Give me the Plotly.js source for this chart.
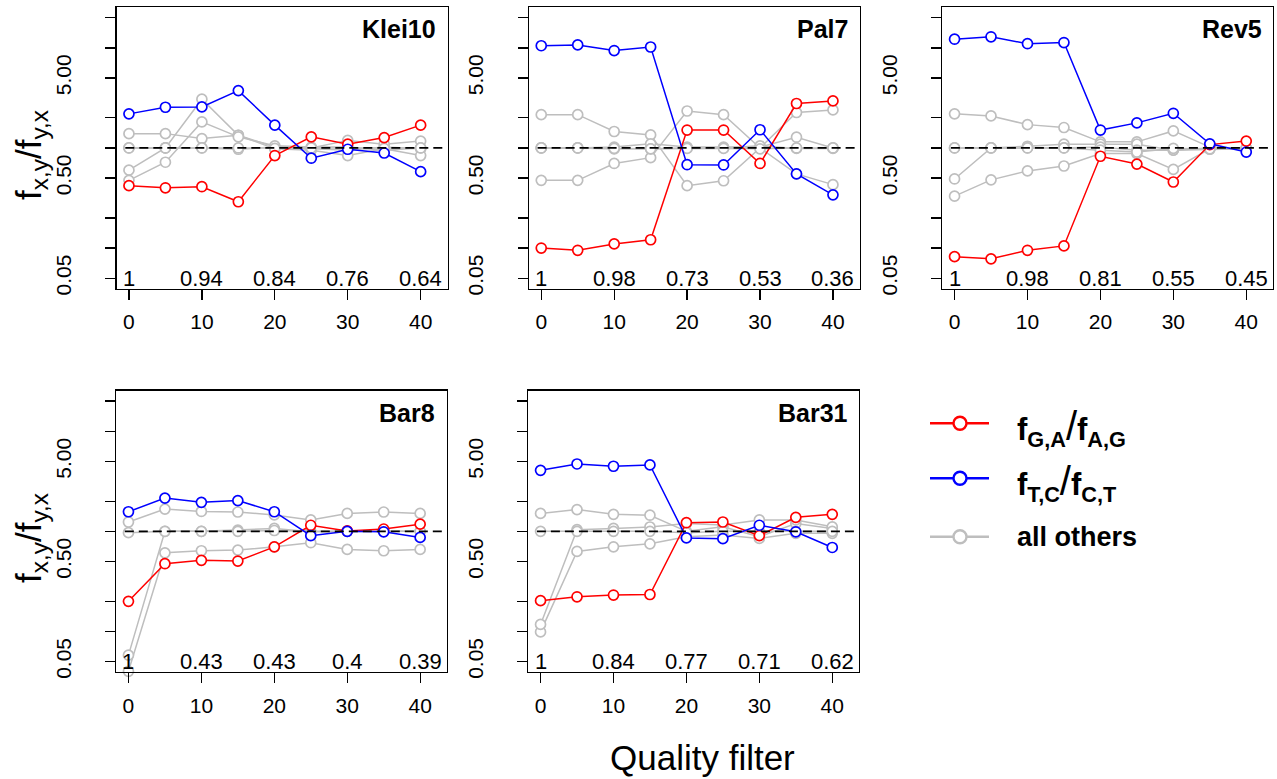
<!DOCTYPE html>
<html><head><meta charset="utf-8">
<script src="https://cdn.plot.ly/plotly-3.0.1.min.js"></script>
<style>html,body{margin:0;padding:0;background:#fff}#chart{width:1277px;height:779px}</style>
</head><body><div id="chart"></div>
<script>
// ---------------- data ----------------
const quality = [0, 5, 10, 15, 20, 25, 30, 35, 40];
const panelNames = ['Klei10', 'Pal7', 'Rev5', 'Bar8', 'Bar31'];
const fracTicks = [0, 10, 20, 30, 40];

// Klei10
const klei10_GA = [0.42, 0.40, 0.41, 0.29, 0.84, 1.29, 1.09, 1.27, 1.69];
const klei10_TC = [2.19, 2.55, 2.57, 3.74, 1.69, 0.79, 0.97, 0.89, 0.58];
const klei10_others = [
  [1.39, 1.39, 1.24, 1.34, 1.02, 0.98, 0.95, 1.02, 0.98],
  [1.00, 1.00, 1.00, 0.97, 1.02, 1.00, 1.19, 1.09, 1.17],
  [0.60, 1.00, 3.07, 1.34, 0.98, 0.95, 0.84, 0.98, 0.84],
  [0.475, 0.72, 1.82, 1.29, 1.05, 1.02, 1.02, 0.95, 1.00],
  [1.00, 1.00, 1.00, 1.00, 0.99, 1.00, 0.99, 0.99, 1.00]
];
const klei10_frac = ['1', '0.94', '0.84', '0.76', '0.64'];

// Pal7
const pal7_GA = [0.100, 0.095, 0.110, 0.121, 1.51, 1.51, 0.70, 2.78, 2.95];
const pal7_TC = [10.5, 10.7, 9.4, 10.2, 0.68, 0.676, 1.52, 0.55, 0.34];
const pal7_others = [
  [2.15, 2.15, 1.46, 1.35, 0.42, 0.47, 1.00, 0.55, 0.43],
  [0.475, 0.475, 0.70, 0.80, 2.34, 2.15, 1.00, 2.26, 2.40],
  [1.00, 1.00, 1.02, 1.10, 1.02, 1.02, 1.02, 1.28, 1.00],
  [1.00, 1.00, 0.98, 0.98, 1.00, 1.00, 1.05, 0.99, 0.99],
  [1.00, 1.00, 0.99, 0.98, 0.99, 0.99, 0.98, 1.00, 1.00]
];
const pal7_frac = ['1', '0.98', '0.73', '0.53', '0.36'];

// Rev5
const rev5_GA = [0.082, 0.078, 0.095, 0.105, 0.826, 0.69, 0.457, 1.08, 1.17];
const rev5_TC = [12.2, 12.9, 11.0, 11.3, 1.51, 1.78, 2.22, 1.10, 0.91];
const rev5_others = [
  [2.19, 2.09, 1.71, 1.60, 1.15, 1.15, 1.48, 1.02, 0.98],
  [0.33, 0.48, 0.59, 0.66, 0.88, 0.88, 0.61, 0.98, 0.97],
  [0.49, 1.00, 1.04, 1.09, 1.09, 1.09, 0.95, 1.00, 1.00],
  [1.00, 1.00, 1.00, 1.00, 1.02, 0.95, 0.95, 0.97, 0.98],
  [1.00, 1.00, 1.00, 1.00, 0.95, 0.91, 0.99, 0.98, 1.00]
];
const rev5_frac = ['1', '0.98', '0.81', '0.55', '0.45'];

// Bar8
const bar8_GA = [0.20, 0.475, 0.513, 0.505, 0.70, 1.15, 1.01, 1.055, 1.18];
const bar8_TC = [1.57, 2.15, 1.95, 2.03, 1.57, 0.905, 1.00, 0.99, 0.87];
const bar8_others = [
  [1.24, 1.67, 1.58, 1.56, 1.46, 1.30, 1.51, 1.56, 1.51],
  [0.040, 0.61, 0.64, 0.65, 0.70, 0.77, 0.66, 0.64, 0.66],
  [0.058, 1.00, 1.00, 1.03, 1.07, 0.99, 1.00, 1.00, 1.00],
  [0.97, 1.00, 1.00, 1.00, 1.02, 1.00, 1.00, 1.00, 1.00]
];
const bar8_frac = ['1', '0.43', '0.43', '0.4', '0.39'];

// Bar31
const bar31_GA = [0.203, 0.222, 0.231, 0.234, 1.22, 1.24, 0.905, 1.38, 1.48];
const bar31_TC = [4.07, 4.71, 4.47, 4.61, 0.86, 0.845, 1.15, 0.99, 0.69];
const bar31_others = [
  [1.51, 1.65, 1.48, 1.45, 1.00, 1.11, 0.885, 1.20, 1.07],
  [0.099, 0.63, 0.70, 0.75, 0.885, 0.92, 0.85, 0.955, 0.955],
  [0.1175, 1.04, 1.07, 1.105, 1.20, 1.16, 1.30, 1.30, 1.11],
  [1.00, 1.00, 1.00, 1.00, 0.97, 1.00, 1.00, 1.00, 1.00]
];
const bar31_frac = ['1', '0.84', '0.77', '0.71', '0.62'];

const yTickVals = [0.05, 0.1, 0.2, 0.5, 1, 2, 5, 10, 20];
const yTickText = ['0.05', '', '', '0.50', '', '', '5.00', '', ''];
const legendLabels = ['f<sub>G,A</sub><span style="font-size:40px;font-weight:normal">/</span>f<sub>A,G</sub>',
                      'f<sub>T,C</sub><span style="font-size:40px;font-weight:normal">/</span>f<sub>C,T</sub>',
                      'all others'];

// ---------------- layout helpers ----------------
const W = 1277, H = 779;
const FONT = 'Liberation Sans, Arial, Helvetica, sans-serif';
const RED = '#FF0000', BLUE = '#0000FF', GRAY = '#BEBEBE';
const panels = [
  {name: 'Klei10', GA: klei10_GA, TC: klei10_TC, others: klei10_others, frac: klei10_frac, left: 116.7, top: 7.3},
  {name: 'Pal7',   GA: pal7_GA,   TC: pal7_TC,   others: pal7_others,   frac: pal7_frac,   left: 529.0, top: 7.3},
  {name: 'Rev5',   GA: rev5_GA,   TC: rev5_TC,   others: rev5_others,   frac: rev5_frac,   left: 942.3, top: 7.3},
  {name: 'Bar8',   GA: bar8_GA,   TC: bar8_TC,   others: bar8_others,   frac: bar8_frac,   left: 116.2, top: 390.7},
  {name: 'Bar31',  GA: bar31_GA,  TC: bar31_TC,  others: bar31_others,  frac: bar31_frac,  left: 528.3, top: 390.7}
];
const PW = 330.8, PH = 281.3;

const traces = [];
const layout = {
  width: W, height: H,
  margin: {l: 0, r: 0, t: 0, b: 0},
  paper_bgcolor: '#fff', plot_bgcolor: '#fff',
  showlegend: false,
  font: {family: FONT, color: '#000'},
  annotations: [], shapes: []
};

function lineTrace(x, y, color, xa, ya) {
  return {
    type: 'scatter', mode: 'lines+markers', x: x, y: y, xaxis: xa, yaxis: ya,
    line: {color: color, width: 1.5},
    marker: {symbol: 'circle', size: 10, color: '#fff', line: {color: color, width: 1.7}},
    cliponaxis: false, hoverinfo: 'skip'
  };
}

panels.forEach((p, i) => {
  const n = i + 1;
  const xa = 'x' + (n === 1 ? '' : n), ya = 'y' + (n === 1 ? '' : n);
  const xk = 'xaxis' + (n === 1 ? '' : n), yk = 'yaxis' + (n === 1 ? '' : n);
  p.others.forEach(s => traces.push(lineTrace(quality, s, GRAY, xa, ya)));
  traces.push(lineTrace(quality, p.GA, RED, xa, ya));
  traces.push(lineTrace(quality, p.TC, BLUE, xa, ya));

  layout[xk] = {
    domain: [p.left / W, (p.left + PW) / W], anchor: ya,
    range: [-1.68, 43.68], tickvals: [0, 10, 20, 30, 40],
    ticks: 'outside', ticklen: 10, tickwidth: 1.3, tickcolor: '#000',
    showline: true, mirror: true, linecolor: '#000', linewidth: 1.3,
    showgrid: false, zeroline: false, fixedrange: true,
    tickfont: {size: 21, family: FONT, color: '#000'}, ticklabelstandoff: 4
  };
  layout[yk] = {
    domain: [1 - (p.top + PH) / H, 1 - p.top / H], anchor: xa,
    type: 'log', range: [Math.log10(0.05) - 0.10408, Math.log10(20) + 0.10408],
    tickvals: yTickVals, ticktext: yTickText, tickangle: -90,
    ticks: 'outside', ticklen: 10, tickwidth: 1.3, tickcolor: '#000',
    showline: true, mirror: true, linecolor: '#000', linewidth: 1.3,
    showgrid: false, zeroline: false, fixedrange: true,
    tickfont: {size: 21, family: FONT, color: '#000'}, ticklabelstandoff: 26
  };
  // reference line at ratio 1
  layout.shapes.push({type: 'line', xref: xa, yref: ya, x0: -0.5, x1: 43, y0: 1, y1: 1,
    line: {color: '#000', width: 1.8, dash: '9px,5px'}});
  // panel name
  layout.annotations.push({xref: xa + ' domain', yref: ya + ' domain', x: 1 - 9.5 / PW, y: 1 - 22 / PH,
    xanchor: 'right', yanchor: 'middle', showarrow: false, text: '<b>' + p.name + '</b>',
    font: {size: 25, family: FONT, color: '#000'}});
  // kept-fraction labels
  p.frac.forEach((t, k) => layout.annotations.push({xref: xa, yref: ya, x: fracTicks[k], y: Math.log10(0.05),
    xanchor: 'center', yanchor: 'middle', showarrow: false, text: t,
    font: {size: 22, family: FONT, color: '#000'}}));
});

// y axis titles
[155, 538].forEach(yc => layout.annotations.push({xref: 'paper', yref: 'paper', x: 31 / W, y: 1 - yc / H,
  xanchor: 'center', yanchor: 'middle', textangle: -90, showarrow: false,
  text: 'f<sub>x,y</sub>/f<sub>y,x</sub>', font: {size: 35, family: FONT, color: '#000'}}));

// x axis title
layout.annotations.push({xref: 'paper', yref: 'paper', x: 702 / W, y: 1 - 757 / H,
  xanchor: 'center', yanchor: 'middle', showarrow: false, text: 'Quality filter',
  font: {size: 35, family: FONT, color: '#000'}});

// legend (drawn by hand in paper coordinates)
const legendColors = [RED, BLUE, GRAY];
const legendY = [423.3, 478.3, 536.7];
legendColors.forEach((c, k) => {
  const yy = 1 - legendY[k] / H;
  layout.shapes.push({type: 'line', xref: 'paper', yref: 'paper', x0: 930 / W, x1: 989 / W, y0: yy, y1: yy,
    line: {color: c, width: 2.6}});
  layout.shapes.push({type: 'circle', xref: 'paper', yref: 'paper',
    x0: 953.5 / W, x1: 966.5 / W, y0: 1 - (legendY[k] + 6.5) / H, y1: 1 - (legendY[k] - 6.5) / H,
    fillcolor: '#fff', line: {color: c, width: 2.4}});
  layout.annotations.push({xref: 'paper', yref: 'paper', x: 1015 / W, y: 1 - (legendY[k] + (k < 2 ? 5 : 0)) / H,
    xanchor: 'left', yanchor: 'middle', showarrow: false, text: '<b>' + legendLabels[k] + '</b>',
    font: {size: k < 2 ? 31 : 27, family: FONT, color: '#000'}});
});

Plotly.newPlot('chart', traces, layout, {staticPlot: true, displayModeBar: false});
</script>
</body></html>
